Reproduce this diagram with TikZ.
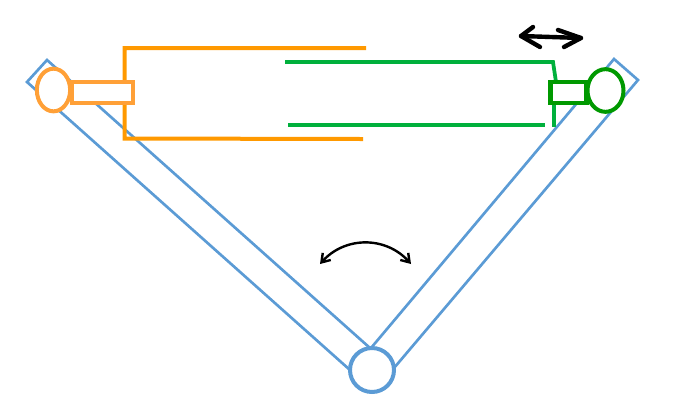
\documentclass[tikz,border=0pt]{standalone}
\usetikzlibrary{shapes.geometric,arrows.meta}
\definecolor{armblue}{RGB}{91,155,213}
\definecolor{cylorange}{RGB}{255,153,0}
\definecolor{pinorange}{RGB}{255,160,55}
\definecolor{rodgreen}{RGB}{0,176,60}
\definecolor{pingreen}{RGB}{0,153,0}
\tikzset{
	arm/.style={draw=armblue,line width=2pt,line join=miter},
	hingeball/.style={circle,draw=armblue,fill=white,line width=3pt,minimum size=33pt,inner sep=0pt},
	pinorg/.style={ellipse,draw=pinorange,fill=white,line width=3pt,minimum width=25pt,minimum height=32pt,inner sep=0pt},
	pingrn/.style={ellipse,draw=pingreen,fill=white,line width=3pt,minimum width=27pt,minimum height=32pt,inner sep=0pt},
	rodorg/.style={rectangle,draw=pinorange,fill=white,line width=3.2pt,minimum width=45.5pt,minimum height=15.5pt,inner sep=0pt},
	rodgrn/.style={rectangle,draw=pingreen,fill=white,line width=3.2pt,minimum width=27pt,minimum height=15.5pt,inner sep=0pt},
	cylorg/.style={draw=cylorange,line width=3pt},
	cylgrn/.style={draw=rodgreen,line width=2.8pt}
}
\begin{document}
\begin{tikzpicture}[x=0.75pt,y=0.75pt,yscale=-1,xscale=1]
	\useasboundingbox (0,0) rectangle (678,412);
	
	\coordinate (armLtop) at (47,60);
	\coordinate (armLend) at (27,82);
	\coordinate (armLin) at (370,348);
	\coordinate (armLout) at (350,370);
	\coordinate (armRtop) at (614,59);
	\coordinate (armRend) at (638,80);
	\coordinate (armRin) at (371,348);
	\coordinate (armRout) at (394,368);
	
	%left and right arm
	\draw [arm] (armLin) -- (armLtop) -- (armLend) -- (armLout) ;
	\draw [arm] (armRin) -- (armRtop) -- (armRend) -- (armRout) ;
	\node [hingeball] (hinge) at (372,370) {};
	
	%orange cylinder
	\coordinate (cylOa) at (366,48);
	\coordinate (cylOb) at (124.5,48);
	\coordinate (cylOc) at (124.5,138.5);
	\coordinate (cylOd) at (363,139);
	\draw [cylorg] (cylOa) -- (cylOb) -- (cylOc) -- (cylOd) ;
	\node [rodorg] (rodO) at (102.5,92.5) {};
	\node [pinorg] (pinO) at (53.5,90) {};
	
	%green cylinder
	\coordinate (cylGa) at (285,62);
	\coordinate (cylGb) at (553,62);
	\coordinate (cylGc) at (556,82);
	\coordinate (cylGd) at (554,102);
	\coordinate (cylGe) at (554,127);
	\coordinate (cylGf) at (288,125);
	\coordinate (cylGg) at (545,125);
	\draw [cylgrn] (cylGa) -- (cylGb) -- (cylGc) ;
	\draw [cylgrn] (cylGd) -- (cylGe) ;
	\draw [cylgrn] (cylGf) -- (cylGg) ;
	\node [rodgrn] (rodG) at (568.5,92.5) {};
	\node [pingrn] (pinG) at (605.5,90.5) {};
	
	%motion arrows
	\coordinate (angL) at (320,264);
	\coordinate (angR) at (411,264);
	\draw [line width=1.8pt,{Straight Barb[length=6pt,width=8pt]}-{Straight Barb[length=6pt,width=8pt]}] (angL) .. controls (345,236) and (386,236) .. (angR) ;
	
	\coordinate (slideL) at (521,36);
	\coordinate (slideR) at (581,38);
	\coordinate (slideLa) at (533,27);
	\coordinate (slideLb) at (540,47);
	\coordinate (slideRa) at (558,30);
	\coordinate (slideRb) at (564,47);
	\draw [line width=3.3pt,line cap=round,line join=round] (slideL) -- (slideR) ;
	\draw [line width=3.3pt,line cap=round,line join=round] (slideLa) -- (slideL) -- (slideLb) ;
	\draw [line width=3.3pt,line cap=round,line join=round] (slideRa) -- (slideR) -- (slideRb) ;
	
\end{tikzpicture}
\end{document}
